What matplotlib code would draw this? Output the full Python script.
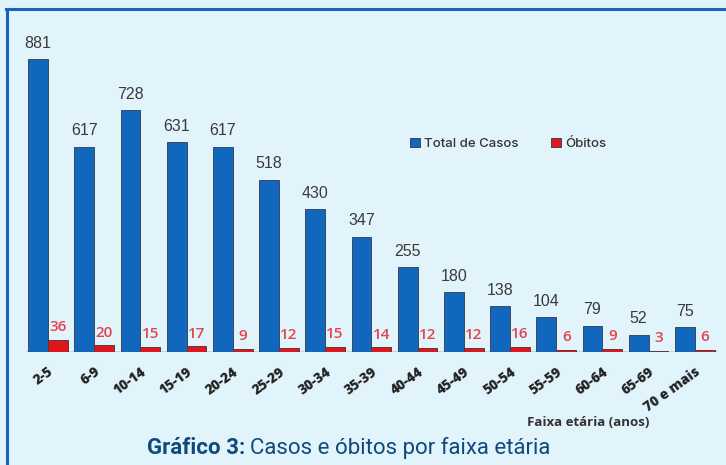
import matplotlib
matplotlib.use("Agg")
import matplotlib.pyplot as plt
from matplotlib.patches import Patch
from matplotlib.lines import Line2D
import numpy as np

categories = ["2-5", "6-9", "10-14", "15-19", "20-24", "25-29", "30-34", "35-39",
              "40-44", "45-49", "50-54", "55-59", "60-64", "65-69", "70 e mais"]
total_casos = [881, 617, 728, 631, 617, 518, 430, 347, 255, 180, 138, 104, 79, 52, 75]
obitos = [36, 20, 15, 17, 9, 12, 15, 14, 12, 12, 16, 6, 9, 3, 6]

W, H = 726, 465
BG = "#e1f3fb"
BLUE = "#1166bd"
RED = "#e0161f"
RED_TXT = "#e8434b"
GRAY_TXT = "#3a3a3a"
TITLE_C = "#0e4a7b"
FRAME = "#1565c0"

fig = plt.figure(figsize=(W / 100, H / 100), dpi=100, facecolor=BG)

def fx(px):
    return px / W

def fy(py):
    return 1 - py / H

ax_left, ax_right = 22, 722
ax_top, ax_bottom = 30, 352
ax = fig.add_axes([fx(ax_left), fy(ax_bottom), fx(ax_right - ax_left), (ax_bottom - ax_top) / H])
ax.set_facecolor("none")

x = np.arange(len(categories))
bw = 0.43
c0, step = 48.0, 46.2
ax.set_xlim((ax_left - c0) / step, (ax_right - c0) / step)
scale = (352 - 59) / 881.0
ax.set_ylim(0, (ax_bottom - ax_top) / scale)

ax.bar(x - bw / 2, total_casos, bw, color=BLUE, edgecolor="#3c4a5a", linewidth=0.7, zorder=3)
ax.bar(x + bw / 2, obitos, bw, color=RED, edgecolor="#5a3a3a", linewidth=0.7, zorder=3)

for xi, v in zip(x, total_casos):
    ax.annotate(str(v), (xi - bw / 2, v), xytext=(0, 6), textcoords="offset points",
                ha="center", va="bottom", fontsize=11.5, color=GRAY_TXT,
                family="Liberation Sans")
for xi, v in zip(x, obitos):
    ax.annotate(str(v), (xi + bw / 2, v), xytext=(0, 4), textcoords="offset points",
                ha="center", va="bottom", fontsize=11, color=RED_TXT,
                family="Open Sans", fontweight="semibold")

ax.axhline(0, xmin=(27 - ax_left) / (ax_right - ax_left), xmax=(717 - ax_left) / (ax_right - ax_left),
           color="#c8cdd2", linewidth=1.2, zorder=2)

for s in ax.spines.values():
    s.set_visible(False)
ax.set_yticks([])
ax.set_xticks(x)
ax.set_xticklabels(categories, rotation=36, ha="right", rotation_mode="anchor",
                   fontsize=9.8, fontweight="heavy", family="Open Sans", color="#222222")
ax.tick_params(axis="x", length=0, pad=9)

fig.text(fx(588), fy(422), "Faixa etária (anos)", ha="center", va="center",
         fontsize=9.5, fontweight="bold", family="Open Sans", color="#333333")

handles = [Patch(facecolor=BLUE, edgecolor="#333333", linewidth=0.6),
           Patch(facecolor=RED, edgecolor="#333333", linewidth=0.6)]
fig.legend(handles, ["Total de Casos", "Óbitos"], ncol=2, frameon=False,
           loc="center left", bbox_to_anchor=(fx(398), fy(144)),
           handlelength=0.75, handleheight=0.75, handletextpad=0.3, columnspacing=2.5,
           prop={"family": "Inter", "size": 9.5, "weight": "medium"}, labelcolor="#333333")

fig.canvas.draw()
r = fig.canvas.get_renderer()
t1 = fig.text(fx(147), fy(448), "Gráfico 3:", ha="left", va="center", fontsize=16,
              fontweight="bold", family="Roboto", color=TITLE_C)
bb = t1.get_window_extent(renderer=r)
t2 = fig.text((bb.x1 + 5) / W, fy(448), "Casos e óbitos por faixa etária", ha="left",
              va="center", fontsize=16, family="Roboto", color=TITLE_C)

fig.add_artist(Line2D([fx(7), fx(7)], [fy(9), 0], color=FRAME, linewidth=2.2, transform=fig.transFigure))
fig.add_artist(Line2D([fx(6), 1], [fy(9), fy(9)], color=FRAME, linewidth=2.2, transform=fig.transFigure))

fig.savefig("out.png", dpi=100, facecolor=BG)
